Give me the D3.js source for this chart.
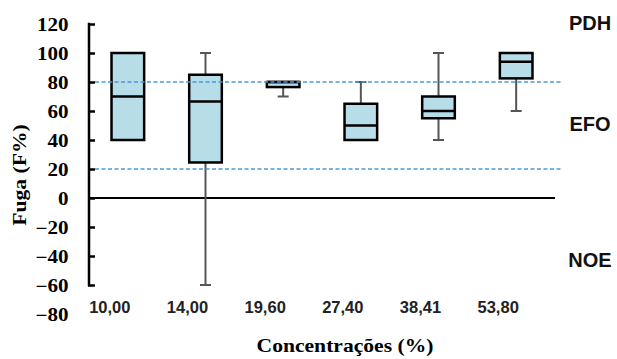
<!DOCTYPE html>
<html>
<head>
<meta charset="utf-8">
<script src="https://cdn.jsdelivr.net/npm/d3@7"></script>
<style>
  html, body { margin: 0; padding: 0; background: #fff; }
  svg { display: block; }
</style>
</head>
<body>
<svg id="chart" width="617" height="359"></svg>
<script>
// ---- data ----
const categories = ["10,00", "14,00", "19,60", "27,40", "38,41", "53,80"];
const minValues    = [40, -60, 70, 40, 40, 60];
const q1Values     = [40, 24.5, 76.5, 40, 55, 82.5];
const medianValues = [70, 66.5, 80, 50, 60, 94];
const q3Values     = [100, 85, 80, 65, 70, 100];
const maxValues    = [100, 100, 80, 80, 100, 100];
const yTicks = [-80, -60, -40, -20, 0, 20, 40, 60, 80, 100, 120];
const thresholds = [80, 20];
const zoneLabels = [
  { text: "PDH", value: 121 },
  { text: "EFO", value: 51 },
  { text: "NOE", value: -43 }
];

const data = categories.map((c, i) => ({
  cat: c, min: minValues[i], q1: q1Values[i], med: medianValues[i],
  q3: q3Values[i], max: maxValues[i]
}));

const svg = d3.select("#chart");

const x = d3.scaleBand().domain(categories).range([89, 555])
  .paddingInner(0.58).paddingOuter(0.29);
const y = d3.scaleLinear().domain([-80, 120]).range([314, 24]);

// ---- y axis ----
const yAxis = d3.axisLeft(y).tickValues(yTicks).tickSize(-6).tickPadding(0)
  .tickFormat(d3.format("d"));
const gy = svg.append("g").attr("transform", "translate(89,0)").call(yAxis);
gy.select(".domain").remove();
gy.selectAll(".tick line").attr("stroke", "#000").attr("stroke-width", 2.5)
  .attr("x1", -1).attr("x2", 6);
gy.selectAll(".tick").filter(d => d === -80).select("line").remove();
gy.selectAll(".tick text")
  .attr("x", -17.5)
  .attr("transform", "scale(1.17,1)")
  .attr("dy", "0.35em")
  .attr("fill", "#000")
  .style("font-family", "'Liberation Serif', 'Times New Roman', serif")
  .style("font-weight", "bold")
  .style("font-size", "18px");
svg.append("line")
  .attr("x1", 89).attr("x2", 89)
  .attr("y1", y(120) - 1.2).attr("y2", y(-60) + 1.2)
  .attr("stroke", "#000").attr("stroke-width", 2.5);

// ---- zero line ----
svg.append("line")
  .attr("x1", 89).attr("x2", 555)
  .attr("y1", y(0)).attr("y2", y(0))
  .attr("stroke", "#000").attr("stroke-width", 2);

// ---- boxes ----
const bw = x.bandwidth();
const g = svg.append("g");
const box = g.selectAll("g.box").data(data).join("g").attr("class", "box")
  .attr("transform", d => `translate(${x(d.cat)},0)`);

// whiskers
box.filter(d => d.max > d.q3).append("line")
  .attr("x1", bw / 2).attr("x2", bw / 2)
  .attr("y1", d => y(d.q3)).attr("y2", d => y(d.max))
  .attr("stroke", "#555").attr("stroke-width", 2);
box.filter(d => d.max > d.q3).append("line")
  .attr("x1", bw / 2 - 5.5).attr("x2", bw / 2 + 5.5)
  .attr("y1", d => y(d.max)).attr("y2", d => y(d.max))
  .attr("stroke", "#555").attr("stroke-width", 2);
box.filter(d => d.min < d.q1).append("line")
  .attr("x1", bw / 2).attr("x2", bw / 2)
  .attr("y1", d => y(d.q1)).attr("y2", d => y(d.min))
  .attr("stroke", "#555").attr("stroke-width", 2);
box.filter(d => d.min < d.q1).append("line")
  .attr("x1", bw / 2 - 5.5).attr("x2", bw / 2 + 5.5)
  .attr("y1", d => y(d.min)).attr("y2", d => y(d.min))
  .attr("stroke", "#555").attr("stroke-width", 2);

box.append("rect")
  .attr("x", 0).attr("width", bw)
  .attr("y", d => y(d.q3)).attr("height", d => y(d.q1) - y(d.q3))
  .attr("fill", "#b7dee8").attr("stroke", "#000").attr("stroke-width", 2.5);
box.append("line")
  .attr("x1", 0).attr("x2", bw)
  .attr("y1", d => y(d.med)).attr("y2", d => y(d.med))
  .attr("stroke", "#000").attr("stroke-width", 2.5);

// ---- threshold dashed lines ----
svg.selectAll("line.thr").data(thresholds).join("line").attr("class", "thr")
  .attr("x1", 95).attr("x2", 563)
  .attr("y1", d => y(d)).attr("y2", d => y(d))
  .attr("stroke", "#4e98d8").attr("stroke-width", 1.5)
  .attr("stroke-dasharray", "4,2.5");

// ---- category labels ----
svg.selectAll("text.cat").data(categories).join("text").attr("class", "cat")
  .attr("x", d => x(d) + bw / 2 - 18)
  .attr("y", 313)
  .attr("text-anchor", "middle")
  .attr("fill", "#222")
  .style("font-family", "'Liberation Sans', Arial, sans-serif")
  .style("font-weight", "bold")
  .style("font-size", "16.5px")
  .text(d => d);

// ---- zone labels ----
svg.selectAll("text.zone").data(zoneLabels).join("text").attr("class", "zone")
  .attr("x", 590)
  .attr("y", d => y(d.value))
  .attr("dy", "0.35em")
  .attr("text-anchor", "middle")
  .attr("fill", "#111")
  .style("font-family", "'Liberation Sans', Arial, sans-serif")
  .style("font-weight", "bold")
  .style("font-size", "20px")
  .text(d => d.text);

// ---- axis titles ----
svg.append("text")
  .attr("transform", "translate(345,352) scale(1.2,1)")
  .attr("text-anchor", "middle")
  .attr("fill", "#000")
  .style("font-family", "'Liberation Serif', 'Times New Roman', serif")
  .style("font-weight", "bold")
  .style("font-size", "18px")
  .text("Concentrações (%)");

svg.append("text")
  .attr("transform", "translate(26,175) rotate(-90) scale(1.2,1)")
  .attr("text-anchor", "middle")
  .attr("fill", "#000")
  .style("font-family", "'Liberation Serif', 'Times New Roman', serif")
  .style("font-weight", "bold")
  .style("font-size", "18px")
  .text("Fuga (F%)");
</script>
</body>
</html>
